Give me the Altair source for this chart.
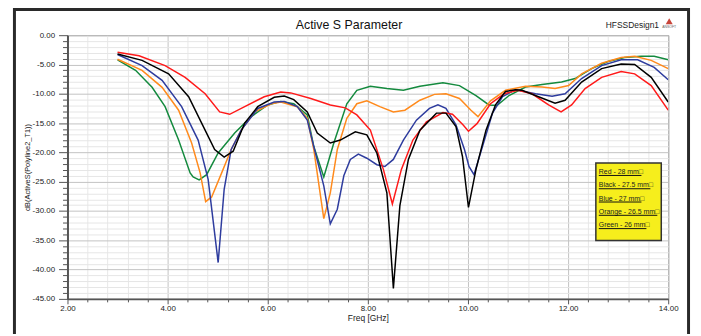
import altair as alt
import pandas as pd

# ---- data ----
series_names = ["Green - 26 mm", "Orange - 26.5 mm", "Blue - 27 mm", "Red - 28 mm", "Black - 27.5 mm"]
series_colors = ["#148a3e", "#ff8a1c", "#2e3c9e", "#ff1a1a", "#000000"]

red_f = [3.0, 3.43, 3.95, 4.35, 4.75, 5.04, 5.24, 5.54, 5.93, 6.26, 6.46, 6.86, 7.25, 7.55, 7.78, 8.05, 8.31, 8.49, 8.67, 8.9, 9.17, 9.5, 9.69, 9.9, 10.01, 10.18, 10.45, 10.72, 11.0, 11.28, 11.61, 11.86, 12.07, 12.34, 12.67, 13.06, 13.33, 13.66, 14.0]
red_db = [-2.9, -3.5, -5.2, -7.2, -10.0, -13.1, -13.5, -12.2, -10.5, -9.7, -9.85, -10.8, -11.9, -12.4, -13.6, -16.2, -22.9, -28.8, -22.9, -17.9, -14.8, -13.2, -13.5, -15.3, -16.4, -15.1, -11.7, -10.0, -9.4, -10.0, -11.9, -13.1, -11.9, -9.1, -7.2, -6.2, -6.6, -8.6, -12.8]

black_f = [3.0, 3.49, 4.02, 4.42, 4.68, 4.94, 5.13, 5.31, 5.54, 5.80, 6.13, 6.33, 6.52, 6.79, 6.99, 7.25, 7.45, 7.75, 7.98, 8.18, 8.38, 8.51, 8.64, 8.81, 9.04, 9.37, 9.56, 9.76, 9.89, 10.01, 10.16, 10.36, 10.55, 10.75, 10.95, 11.08, 11.41, 11.74, 11.94, 12.27, 12.67, 13.06, 13.33, 13.66, 14.0]
black_db = [-3.2, -4.3, -6.6, -10.5, -15.0, -19.5, -20.8, -19.8, -15.0, -12.2, -10.6, -10.4, -11.0, -13.1, -16.7, -18.4, -17.9, -16.5, -17.0, -20.1, -26.9, -43.2, -29.1, -21.2, -16.2, -13.3, -13.3, -15.6, -20.7, -29.4, -22.9, -16.2, -11.9, -9.6, -9.3, -9.4, -10.5, -11.6, -11.1, -8.0, -5.7, -4.9, -5.0, -7.2, -11.4]

blue_f = [3.0, 3.49, 3.89, 4.28, 4.61, 4.81, 5.01, 5.13, 5.27, 5.47, 5.80, 6.13, 6.33, 6.59, 6.79, 6.92, 7.12, 7.25, 7.39, 7.52, 7.65, 7.81, 7.98, 8.18, 8.34, 8.51, 8.71, 8.97, 9.23, 9.40, 9.56, 9.76, 9.93, 10.02, 10.12, 10.29, 10.49, 10.69, 10.95, 11.35, 11.68, 11.94, 12.27, 12.67, 13.06, 13.39, 13.72, 14.0]
blue_db = [-3.3, -5.2, -7.7, -12.2, -17.9, -24.6, -38.8, -26.3, -19.5, -16.2, -12.5, -11.4, -11.3, -12.2, -14.5, -19.0, -25.7, -32.2, -29.7, -24.0, -21.2, -20.3, -21.0, -22.1, -22.4, -21.2, -17.9, -14.5, -12.5, -11.9, -12.5, -15.3, -19.5, -22.4, -23.8, -19.0, -13.3, -10.5, -9.3, -10.0, -10.4, -10.0, -7.4, -5.2, -4.2, -4.2, -5.5, -7.6]

orange_f = [3.0, 3.49, 3.89, 4.22, 4.48, 4.65, 4.76, 4.88, 5.08, 5.27, 5.47, 5.74, 6.07, 6.26, 6.59, 6.79, 6.92, 7.12, 7.25, 7.39, 7.58, 7.78, 7.98, 8.24, 8.51, 8.74, 9.04, 9.33, 9.56, 9.83, 10.06, 10.2, 10.45, 10.75, 11.15, 11.48, 11.74, 12.01, 12.27, 12.67, 13.06, 13.33, 13.66, 14.0]
orange_db = [-4.1, -6.0, -8.9, -12.8, -18.4, -23.5, -28.4, -27.6, -23.5, -19.5, -16.2, -13.1, -11.7, -11.4, -12.2, -14.2, -19.5, -31.3, -26.9, -19.5, -14.2, -11.7, -11.2, -12.2, -13.1, -12.8, -11.1, -10.1, -10.0, -10.8, -12.8, -13.9, -11.2, -9.4, -8.7, -8.85, -9.1, -8.6, -6.6, -4.8, -3.8, -3.6, -4.3, -5.7]

green_f = [3.0, 3.36, 3.69, 3.95, 4.22, 4.45, 4.51, 4.63, 4.78, 5.01, 5.34, 5.67, 6.00, 6.26, 6.52, 6.79, 6.92, 7.12, 7.32, 7.58, 7.78, 8.05, 8.38, 8.71, 9.04, 9.50, 9.83, 10.16, 10.42, 10.58, 10.82, 11.15, 11.48, 11.87, 12.14, 12.47, 12.80, 13.13, 13.46, 13.72, 14.0]
green_db = [-4.2, -6.0, -8.9, -12.2, -17.9, -23.5, -24.2, -24.7, -23.8, -20.1, -16.7, -13.9, -11.9, -11.3, -11.7, -13.6, -19.0, -24.2, -18.4, -11.7, -9.4, -8.7, -9.1, -9.4, -8.7, -8.1, -8.6, -10.3, -11.9, -12.0, -10.3, -8.85, -8.4, -8.0, -7.4, -5.7, -4.5, -3.8, -3.6, -3.6, -4.2]

x_ticks = [round(2 + 0.4 * i, 2) for i in range(31)]
y_ticks = [float(-i) for i in range(46)]

legend_labels = ["Red - 28 mm\u25a1", "Black - 27.5 mm\u25a1", "Blue - 27 mm\u25a1", "Orange - 26.5 mm\u25a1", "Green - 26 mm\u25a1"]
legend_underline_end = [579, 588, 579, 595, 584]

# ---- build table ----
frames = []
for name, fs, dbs in [
    (series_names[0], green_f, green_db),
    (series_names[1], orange_f, orange_db),
    (series_names[2], blue_f, blue_db),
    (series_names[3], red_f, red_db),
    (series_names[4], black_f, black_db),
]:
    frames.append(pd.DataFrame({"f": fs, "db": dbs, "series": name}))
df = pd.concat(frames, ignore_index=True)

FONT = "Liberation Sans Narrow, Arial Narrow, Liberation Sans, Arial"
MAJ_X = "abs(datum.value/2 - round(datum.value/2)) < 0.001"
MAJ_Y = "datum.value % 5 == 0"

x_axis = alt.Axis(
    values=x_ticks,
    labelExpr=MAJ_X + " ? format(datum.value, '.2f') : ''",
    labelFlush=False,
    title="Freq [GHz]",
    titleFont=FONT, titleFontSize=8.5, titleFontWeight="normal", titleColor="#222",
    titleY=19, titleBaseline="middle",
    labelFont=FONT, labelFontSize=8, labelColor="#222", labelPadding=1,
    tickSize=alt.condition(MAJ_X, alt.value(5), alt.value(3)),
    tickColor="#555",
    gridColor=alt.condition(MAJ_X, alt.value("#c2c2c2"), alt.value("#e8e8e8")),
    gridWidth=1,
    domainColor="#555", domainWidth=2,
)
y_axis = alt.Axis(
    values=y_ticks,
    labelExpr=MAJ_Y + " ? ((datum.value < 0 ? '-' : '') + format(abs(datum.value), '.2f')) : ''",
    labelFlush=False,
    title="dB(ActiveS(Polyline2_T1))",
    titleFont=FONT, titleFontSize=7.5, titleFontWeight="normal", titleColor="#222",
    titleX=-40, titleY=133, titleAngle=270, titleAlign="center", titleBaseline="middle",
    labelFont=FONT, labelFontSize=8, labelColor="#222", labelPadding=4,
    tickSize=alt.condition(MAJ_Y, alt.value(9), alt.value(5)),
    tickColor="#555",
    gridColor=alt.condition(MAJ_Y, alt.value("#c2c2c2"), alt.value("#e6e6e6")),
    gridWidth=1,
    domainColor="#555", domainWidth=2,
)

lines = alt.Chart(df).mark_line(strokeWidth=1.5, clip=True).encode(
    x=alt.X("f:Q", scale=alt.Scale(domain=[2, 14], nice=False, zero=False), axis=x_axis),
    y=alt.Y("db:Q", scale=alt.Scale(domain=[-45, 0], nice=False, zero=False), axis=y_axis),
    color=alt.Color("series:N", scale=alt.Scale(domain=series_names, range=series_colors), legend=None),
)

one = pd.DataFrame({"a": [0]})

legend_box = alt.Chart(one).mark_rect(fill="#f6ee1c", stroke="#333", strokeWidth=1.5).encode(
    x=alt.value(533), x2=alt.value(599), y=alt.value(129), y2=alt.value(207)
)

layers = [lines, legend_box]
for i, lab in enumerate(legend_labels):
    ty = 140.0 + i * 13.4
    layers.append(
        alt.Chart(one).mark_text(align="left", baseline="alphabetic", font=FONT, fontSize=7, color="#222").encode(
            x=alt.value(536), y=alt.value(ty), text=alt.value(lab)
        )
    )
    layers.append(
        alt.Chart(one).mark_rule(color="#111", strokeWidth=1).encode(
            x=alt.value(536), x2=alt.value(legend_underline_end[i]), y=alt.value(ty + 1.5)
        )
    )

title_text = alt.Chart(one).mark_text(align="center", baseline="alphabetic", font=FONT, fontSize=12.5, color="#111").encode(
    x=alt.value(284), y=alt.value(-6), text=alt.value("Active S Parameter")
)
design_text = alt.Chart(one).mark_text(align="left", baseline="alphabetic", font=FONT, fontSize=8.5, color="#222").encode(
    x=alt.value(543), y=alt.value(-7.6), text=alt.value("HFSSDesign1")
)
logo = alt.Chart(one).mark_point(shape="triangle-up", filled=True, color="#c8453a", size=50, opacity=1).encode(
    x=alt.value(607), y=alt.value(-14)
)
logo_text = alt.Chart(one).mark_text(align="center", baseline="alphabetic", font=FONT, fontSize=3.5, color="#666").encode(
    x=alt.value(607), y=alt.value(-7.5), text=alt.value("ANSOFT")
)
frame = alt.Chart(one).mark_rect(fill=None, stroke="#2a2a2a", strokeWidth=3).encode(
    x=alt.value(-53.5), x2=alt.value(626.5), y=alt.value(-26), y2=alt.value(330)
)

layers += [title_text, design_text, logo, logo_text, frame]

chart = alt.layer(*layers).properties(
    width=606, height=266,
    autosize=alt.AutoSizeParams(type="none"),
    padding={"left": 60, "top": 26, "right": 25, "bottom": 34},
    background="white",
).configure_view(stroke="#777", strokeWidth=1)

chart.save("out.html", embed_options={"renderer": "svg", "actions": False})
